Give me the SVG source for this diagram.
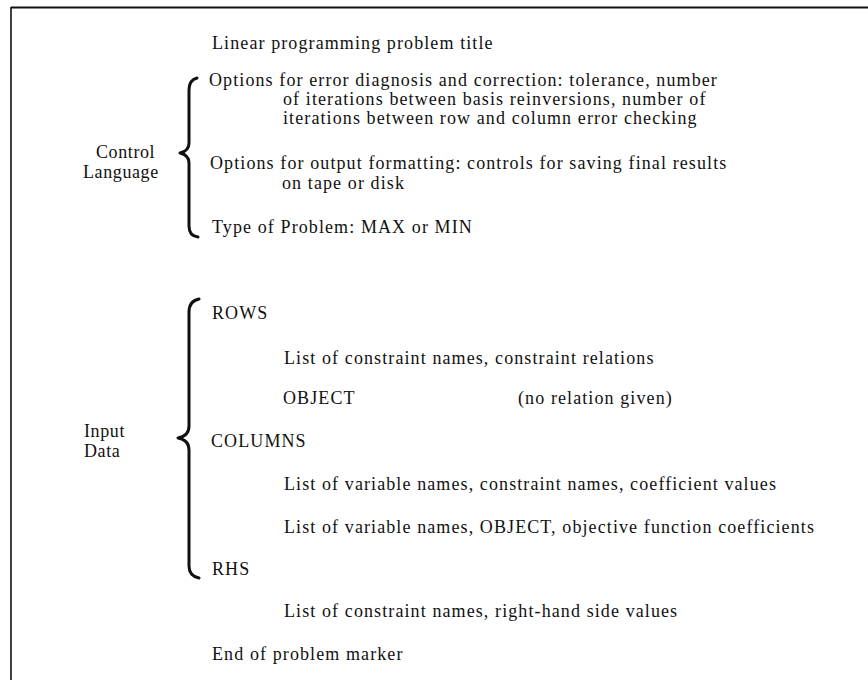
<svg xmlns="http://www.w3.org/2000/svg" width="868" height="680" viewBox="0 0 868 680">
<style>
text{font-family:"Liberation Serif","Times New Roman",serif;font-size:18px;fill:#111;letter-spacing:1.1px}
.lbl{letter-spacing:0.6px}
.frame{stroke:#111;fill:none}
.brace{stroke:#111;stroke-width:3;fill:none;stroke-linecap:round;stroke-linejoin:round}
</style>
<rect width="868" height="680" fill="#fff"/>
<g id="frame">
<line class="frame" x1="11" y1="7.5" x2="868" y2="7.5" stroke-width="2"/>
<line class="frame" x1="11" y1="7" x2="11" y2="680" stroke-width="1.6"/>
</g>
<g id="connectors">
<path class="brace" d="M197 78 Q189 80 189 90 L189 143 Q189 151 180 153 Q189 155 189 163 L189 226 Q189 236 198 237"/>
<path class="brace" d="M199 299 Q189 301 189 312 L189 426 Q189 436 178 438 Q189 440 189 450 L189 566 Q189 576 199 578"/>
</g>
<g id="title"><text x="212" y="49">Linear programming problem title</text></g>
<g id="control-language">
<text class="lbl" x="96" y="158">Control</text>
<text class="lbl" x="83" y="178">Language</text>
</g>
<g id="error-options">
<text x="209" y="86">Options for error diagnosis and correction: tolerance, number</text>
<text x="283" y="105">of iterations between basis reinversions, number of</text>
<text x="283" y="124">iterations between row and column error checking</text>
</g>
<g id="output-options">
<text x="210" y="169">Options for output formatting:  controls for saving final results</text>
<text x="282" y="189">on tape or disk</text>
</g>
<g id="problem-type"><text x="212" y="233">Type of Problem: MAX or MIN</text></g>
<g id="input-data">
<text class="lbl" x="84" y="437">Input</text>
<text class="lbl" x="84" y="457">Data</text>
</g>
<g id="rows">
<text x="212" y="319">ROWS</text>
<text x="284" y="364">List of constraint names, constraint relations</text>
<text x="283" y="404">OBJECT</text>
<text x="518" y="404">(no relation given)</text>
</g>
<g id="columns">
<text x="211" y="447">COLUMNS</text>
<text x="284" y="490">List of variable names, constraint names, coefficient values</text>
<text x="284" y="533">List of variable names, OBJECT, objective function coefficients</text>
</g>
<g id="rhs">
<text x="212" y="575">RHS</text>
<text x="284" y="617">List of constraint names, right-hand side values</text>
</g>
<g id="end-marker"><text x="212" y="660">End of problem marker</text></g>
</svg>
